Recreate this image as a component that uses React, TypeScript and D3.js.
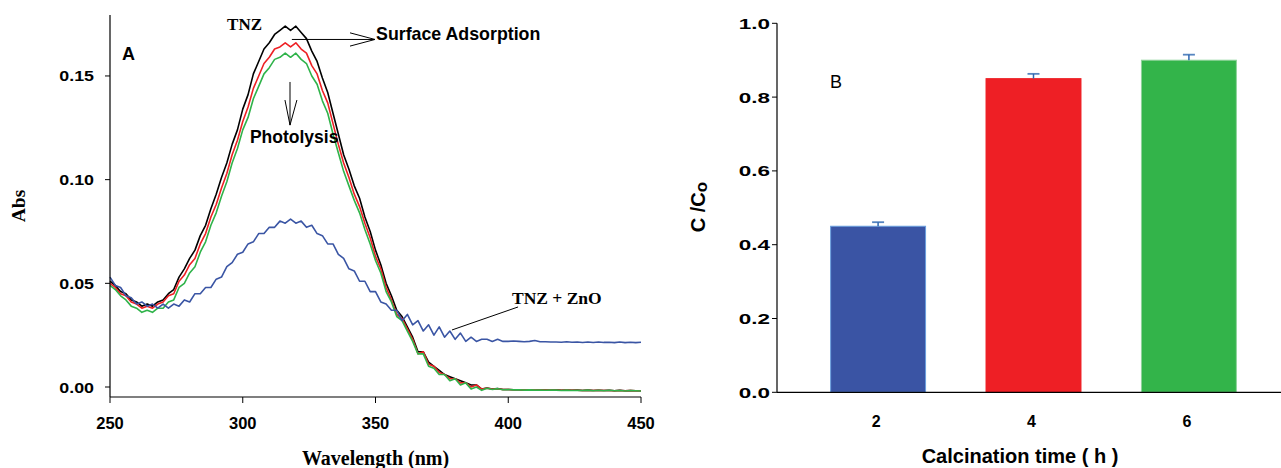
import React from 'react';
import * as d3 from 'd3';

// ---------- Panel A data (UV-Vis spectra) ----------
const wavelengths = [
  250, 252, 254, 256, 258, 260, 262, 264, 266, 268,
  270, 272, 274, 276, 278, 280, 282, 284, 286, 288,
  290, 292, 294, 296, 298, 300, 302, 304, 306, 308,
  310, 312, 314, 316, 318, 320, 322, 324, 326, 328,
  330, 332, 334, 336, 338, 340, 342, 344, 346, 348,
  350, 352, 354, 356, 358, 360, 362, 364, 366, 368,
  370, 372, 374, 376, 378, 380, 382, 384, 386, 388,
  390, 392, 394, 396, 398, 400, 402, 404, 406, 408,
  410, 412, 414, 416, 418, 420, 422, 424, 426, 428,
  430, 432, 434, 436, 438, 440, 442, 444, 446, 448,
  450,
];

const blackHead = [
  0.051, 0.049, 0.046, 0.045, 0.042, 0.041, 0.039, 0.040, 0.039, 0.041,
  0.042, 0.045, 0.047, 0.053, 0.057, 0.062, 0.066, 0.073, 0.078, 0.086,
  0.093, 0.101, 0.108, 0.117, 0.124, 0.134, 0.141, 0.151, 0.157, 0.163,
  0.166, 0.170, 0.172, 0.174, 0.172, 0.174, 0.171, 0.168, 0.162, 0.157,
  0.149, 0.142, 0.132, 0.122, 0.112, 0.105, 0.097, 0.091, 0.082, 0.075,
  0.066, 0.059, 0.050, 0.044, 0.037, 0.034, 0.029, 0.024, 0.017, 0.017,
  0.012, 0.010, 0.008, 0.006, 0.005, 0.004, 0.003, 0.002, 0.001, 0.001,
];
const blackTail = [
  -0.001, -0.0005, -0.001, -0.0008, -0.0012, -0.0012, -0.0013, -0.0013, -0.0014, -0.0014,
  -0.0014, -0.0015, -0.0015, -0.0015, -0.0014, -0.0016, -0.0015, -0.0016, -0.0015, -0.0017,
  -0.0015, -0.0017, -0.0016, -0.0017, -0.0016, -0.0018, -0.0016, -0.0018, -0.0017, -0.0018,
  -0.0018,
];

const redHead = [
  0.050, 0.048, 0.045, 0.044, 0.041, 0.040, 0.038, 0.039, 0.038, 0.040,
  0.041, 0.044, 0.045, 0.051, 0.054, 0.059, 0.062, 0.069, 0.074, 0.082,
  0.088, 0.096, 0.103, 0.112, 0.119, 0.128, 0.135, 0.144, 0.150, 0.156,
  0.159, 0.163, 0.164, 0.166, 0.164, 0.166, 0.163, 0.161, 0.155, 0.151,
  0.143, 0.137, 0.127, 0.117, 0.108, 0.101, 0.093, 0.087, 0.079, 0.072,
  0.063, 0.057, 0.048, 0.042, 0.035, 0.033, 0.028, 0.023, 0.016, 0.017,
  0.011, 0.010, 0.007, 0.006, 0.004, 0.004, 0.002, 0.002, 0.000, 0.001,
];
const redTail = [
  -0.001, -0.0006, -0.001, -0.0009, -0.0012, -0.0012, -0.0013, -0.0013, -0.0014, -0.0014,
  -0.0014, -0.0015, -0.0015, -0.0015, -0.0015, -0.0016, -0.0015, -0.0016, -0.0016, -0.0017,
  -0.0016, -0.0017, -0.0016, -0.0017, -0.0017, -0.0018, -0.0017, -0.0018, -0.0017, -0.0018,
  -0.0018,
];

const greenHead = [
  0.049, 0.047, 0.044, 0.042, 0.039, 0.038, 0.036, 0.037, 0.036, 0.038,
  0.038, 0.041, 0.042, 0.048, 0.050, 0.055, 0.058, 0.065, 0.070, 0.078,
  0.084, 0.092, 0.099, 0.108, 0.115, 0.124, 0.130, 0.139, 0.145, 0.151,
  0.154, 0.158, 0.159, 0.161, 0.159, 0.161, 0.158, 0.156, 0.150, 0.146,
  0.138, 0.132, 0.122, 0.113, 0.104, 0.097, 0.090, 0.084, 0.076, 0.069,
  0.061, 0.055, 0.046, 0.041, 0.034, 0.032, 0.027, 0.022, 0.016, 0.016,
  0.010, 0.009, 0.006, 0.006, 0.003, 0.004, 0.001, 0.002, -0.001, 0.000,
];
const greenTail = [
  -0.0016, -0.0006, -0.0012, -0.0008, -0.0013, -0.0012, -0.0014, -0.0013, -0.0015, -0.0014,
  -0.0015, -0.0015, -0.0016, -0.0015, -0.0015, -0.0017, -0.0015, -0.0017, -0.0016, -0.0017,
  -0.0015, -0.0018, -0.0016, -0.0018, -0.0016, -0.0018, -0.0017, -0.0019, -0.0017, -0.0018,
  -0.0019,
];

const blueHead = [
  0.053, 0.049, 0.048, 0.044, 0.043, 0.040, 0.041, 0.039, 0.040, 0.038,
  0.040, 0.038, 0.040, 0.039, 0.042, 0.041, 0.045, 0.045, 0.048, 0.048,
  0.052, 0.053, 0.058, 0.060, 0.064, 0.065, 0.069, 0.070, 0.074, 0.074,
  0.077, 0.077, 0.080, 0.079, 0.081, 0.079, 0.080, 0.077, 0.078, 0.074,
  0.073, 0.069, 0.069, 0.064, 0.062, 0.057, 0.056, 0.051, 0.051, 0.046,
  0.046, 0.041, 0.040, 0.037, 0.037, 0.032, 0.035, 0.030, 0.032, 0.027,
  0.030, 0.025, 0.029, 0.024, 0.027, 0.023, 0.026, 0.022, 0.024, 0.022,
];
const blueTail = [
  0.023, 0.023, 0.022, 0.023, 0.022, 0.022, 0.0222, 0.022, 0.0218, 0.022,
  0.0224, 0.0218, 0.0218, 0.0217, 0.0217, 0.0216, 0.0218, 0.0216, 0.0217, 0.0215,
  0.0217, 0.0215, 0.0217, 0.0215, 0.0216, 0.0214, 0.0217, 0.0214, 0.0216, 0.0214,
  0.0216,
];

const xTicksA = [250, 300, 350, 400, 450];
const yTicksA = [0, 0.05, 0.1, 0.15];

// ---------- Panel B data (bar chart) ----------
const calcTimes = ['2', '4', '6'];
const ratioValues = [0.45, 0.85, 0.9];
const ratioErrors = [0.011, 0.013, 0.015];
const barColors = ['#3a54a4', '#ee1f25', '#33b44a'];
const barEdges = ['#6a9ede', '#ee1f25', '#8fd39b'];
const yTicksB = [0, 0.2, 0.4, 0.6, 0.8, 1.0];

const SANS = '"Liberation Sans", Arial, Helvetica, sans-serif';
const SERIF = '"Liberation Serif", "Times New Roman", Times, serif';

export default function App() {
  // Panel A scales
  const xA = d3.scaleLinear().domain([250, 450]).range([110, 641]);
  const yA = d3.scaleLinear().domain([-0.00482, 0.1794]).range([397, 15]);

  const series = [
    { name: 'TNZ', color: '#000000', values: [...blackHead, ...blackTail] },
    { name: 'red', color: '#ee2024', values: [...redHead, ...redTail] },
    { name: 'green', color: '#2fb34a', values: [...greenHead, ...greenTail] },
    { name: 'TNZ + ZnO', color: '#3a55a4', values: [...blueHead, ...blueTail] },
  ];

  const line = d3
    .line<number>()
    .x((_, i) => xA(wavelengths[i]))
    .y((d) => yA(d));

  // Panel B scales
  const xB = d3
    .scaleBand<string>()
    .domain(calcTimes)
    .range([777, 1290])
    .paddingInner(0.389)
    .paddingOuter(0.345);
  const yB = d3.scaleLinear().domain([0, 1]).range([392.3, 23.3]);

  const fmtA = d3.format('.2f');
  const fmtB = d3.format('.1f');

  return (
    <svg
      width={1281}
      height={468}
      viewBox="0 0 1281 468"
      style={{ position: 'absolute', left: 0, top: 0, background: '#fff' }}
    >
      <rect x={0} y={0} width={1281} height={468} fill="#fff" />

      {/* ===== Panel A ===== */}
      <g>
        {series.map((s) => (
          <path
            key={s.name}
            d={line(s.values) || ''}
            fill="none"
            stroke={s.color}
            strokeWidth={1.6}
            strokeLinejoin="round"
          />
        ))}

        {/* axes */}
        <line x1={xA(250)} x2={xA(250)} y1={15} y2={397} stroke="#000" strokeWidth={1.2} />
        <line x1={xA(250)} x2={xA(450)} y1={397} y2={397} stroke="#000" strokeWidth={1.2} />
        {xTicksA.map((t) => (
          <g key={'xa' + t}>
            <line x1={xA(t)} x2={xA(t)} y1={397} y2={403} stroke="#000" strokeWidth={1} />
            <text
              x={xA(t)}
              y={429}
              textAnchor="middle"
              fontFamily={SANS}
              fontWeight="bold"
              fontSize={16.5}
              fill="#000"
            >
              {t}
            </text>
          </g>
        ))}
        {yTicksA.map((t) => (
          <g key={'ya' + t}>
            <line x1={105} x2={110} y1={yA(t)} y2={yA(t)} stroke="#000" strokeWidth={1} />
            <text
              transform={`translate(94,${yA(t) + 5.5}) scale(1.15,1)`}
              textAnchor="end"
              fontFamily={SANS}
              fontWeight="bold"
              fontSize={15.5}
              fill="#000"
            >
              {fmtA(t)}
            </text>
          </g>
        ))}

        <text
          transform={`translate(25,206) rotate(-90)`}
          textAnchor="middle"
          fontFamily={SERIF}
          fontWeight="bold"
          fontSize={19.5}
          fill="#000"
        >
          Abs
        </text>
        <text
          x={375.5}
          y={465}
          textAnchor="middle"
          fontFamily={SERIF}
          fontWeight="bold"
          fontSize={20}
          fill="#000"
        >
          Wavelength (nm)
        </text>

        {/* annotations */}
        <text x={xA(254.5)} y={yA(0.1577)} fontFamily={SANS} fontWeight="bold" fontSize={18} fill="#000">
          A
        </text>
        <text x={xA(294.1)} y={yA(0.1721)} fontFamily={SERIF} fontWeight="bold" fontSize={17} fill="#000">
          TNZ
        </text>
        <line x1={xA(318.5)} x2={xA(349.8)} y1={yA(0.1676)} y2={yA(0.1676)} stroke="#000" strokeWidth={1} />
        <polyline
          points={`${xA(340.4)},${yA(0.1708)} ${xA(349.8)},${yA(0.1676)} ${xA(340.4)},${yA(0.1644)}`}
          fill="none"
          stroke="#000"
          strokeWidth={1}
        />
        <text x={xA(350.2)} y={yA(0.1673)} fontFamily={SANS} fontWeight="bold" fontSize={17.8} fill="#000">
          Surface Adsorption
        </text>

        <line x1={xA(317.8)} x2={xA(317.8)} y1={yA(0.1471)} y2={yA(0.1263)} stroke="#000" strokeWidth={1} />
        <polyline
          points={`${xA(315.9)},${yA(0.1384)} ${xA(317.8)},${yA(0.1263)} ${xA(320.4)},${yA(0.1384)}`}
          fill="none"
          stroke="#000"
          strokeWidth={1}
        />
        <text x={xA(302.7)} y={yA(0.1176)} fontFamily={SANS} fontWeight="bold" fontSize={17.5} fill="#000">
          Photolysis
        </text>

        <line x1={xA(403.7)} y1={yA(0.0386)} x2={xA(378.8)} y2={yA(0.0275)} stroke="#000" strokeWidth={1} />
        <text x={xA(401.4)} y={yA(0.04)} fontFamily={SERIF} fontWeight="bold" fontSize={17.5} fill="#000">
          TNZ + ZnO
        </text>
      </g>

      {/* ===== Panel B ===== */}
      <g>
        {calcTimes.map((c, i) => {
          const x0 = xB(c) as number;
          const bw = xB.bandwidth();
          const cx = x0 + bw / 2;
          return (
            <g key={'bar' + c}>
              <rect
                x={x0}
                y={yB(ratioValues[i])}
                width={bw}
                height={yB(0) - yB(ratioValues[i])}
                fill={barColors[i]}
                stroke={barEdges[i]}
                strokeWidth={1}
              />
              <line
                x1={cx}
                x2={cx}
                y1={yB(ratioValues[i])}
                y2={yB(ratioValues[i] + ratioErrors[i])}
                stroke="#2c66b0"
                strokeWidth={1.5}
              />
              <line
                x1={cx - 6}
                x2={cx + 6}
                y1={yB(ratioValues[i] + ratioErrors[i])}
                y2={yB(ratioValues[i] + ratioErrors[i])}
                stroke="#2c66b0"
                strokeWidth={1.8}
                strokeOpacity={0.8}
              />
              <text
                x={cx - 2}
                y={427}
                textAnchor="middle"
                fontFamily={SANS}
                fontWeight="bold"
                fontSize={16}
                fill="#000"
              >
                {c}
              </text>
            </g>
          );
        })}

        <line x1={777} x2={777} y1={yB(1)} y2={yB(0)} stroke="#000" strokeWidth={1.2} />
        <line x1={777} x2={1281} y1={yB(0)} y2={yB(0)} stroke="#000" strokeWidth={1.2} />
        {yTicksB.map((t) => (
          <g key={'yb' + t}>
            <line x1={772} x2={777} y1={yB(t)} y2={yB(t)} stroke="#000" strokeWidth={1} />
            <text
              transform={`translate(770,${yB(t) + 5.5}) scale(1.45,1)`}
              textAnchor="end"
              fontFamily={SANS}
              fontWeight="bold"
              fontSize={15.5}
              fill="#000"
            >
              {fmtB(t)}
            </text>
          </g>
        ))}

        <text x={830} y={88} fontFamily={SANS} fontSize={18} fill="#000">
          B
        </text>

        <text
          transform={`translate(705,207) rotate(-90)`}
          textAnchor="middle"
          fontFamily={SANS}
          fontWeight="bold"
          fontSize={20}
          fill="#000"
        >
          C /C
          <tspan fontSize={17} dy={2}>
            o
          </tspan>
        </text>

        <text
          x={1020}
          y={463}
          textAnchor="middle"
          fontFamily={SANS}
          fontWeight="bold"
          fontSize={20}
          fill="#000"
        >
          Calcination time ( h )
        </text>
      </g>
    </svg>
  );
}
